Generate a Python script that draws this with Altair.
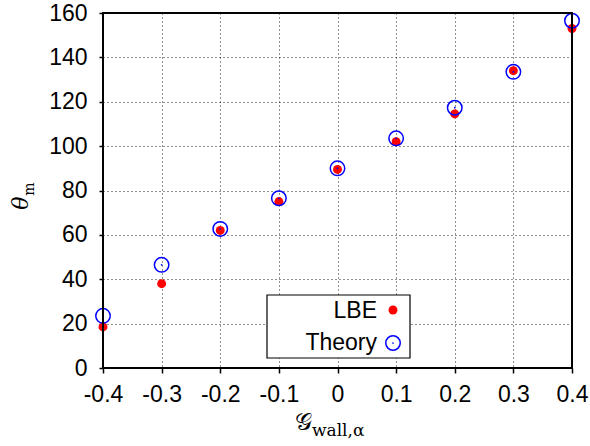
import altair as alt
import pandas as pd

# Wall wetting parameter and contact angles (degrees)
g_wall = [-0.4, -0.3, -0.2, -0.1, 0.0, 0.1, 0.2, 0.3, 0.4]
theta_lbe = [18.5, 38.0, 62.0, 75.0, 89.5, 102.0, 114.5, 134.0, 153.0]
theta_theory = [23.5, 46.5, 62.7, 76.5, 90.0, 103.5, 117.3, 133.5, 156.5]

x_ticks = [-0.4, -0.3, -0.2, -0.1, 0.0, 0.1, 0.2, 0.3, 0.4]
y_ticks = [0, 20, 40, 60, 80, 100, 120, 140, 160]

W, H = 469, 355
SANS = "Liberation Sans"
SERIF = "DejaVu Serif"

df = pd.DataFrame({"g": g_wall, "lbe": theta_lbe, "theory": theta_theory})

xs = alt.Scale(domain=[-0.4, 0.4], nice=False, zero=False)
ys = alt.Scale(domain=[0, 160], nice=False)

x_label_expr = ("datum.value == 0 ? '0' : (datum.value < 0 ? '-' + format(-datum.value, '.1f') "
                ": format(datum.value, '.1f'))")

x_axis = alt.Axis(values=x_ticks, labelExpr=x_label_expr,
                  title=None, labelFont=SANS, labelFontSize=23, labelColor="black",
                  labelFlush=False, labelOverlap=False, labelBound=False,
                  tickColor="black", tickSize=5, tickWidth=1.5, domain=False,
                  grid=True, gridColor="#222", gridDash=[1, 3], gridWidth=1, labelPadding=10)
y_axis = alt.Axis(values=y_ticks, title=None, labelFont=SANS, labelFontSize=23, labelColor="black",
                  labelFlush=False, labelOverlap=False, labelBound=False,
                  tickColor="black", tickSize=4, tickWidth=1.5, domain=False,
                  grid=True, gridColor="#222", gridDash=[1, 3], gridWidth=1, labelPadding=12)

base = alt.Chart(df)

lbe = base.mark_point(filled=True, color="#ff0000", size=80, opacity=1).encode(
    x=alt.X("g:Q", scale=xs, axis=x_axis),
    y=alt.Y("lbe:Q", scale=ys, axis=y_axis),
)
theory = base.mark_point(shape="circle", filled=False, color="#0000ff", size=210, strokeWidth=1.5, opacity=1).encode(
    x=alt.X("g:Q", scale=xs),
    y=alt.Y("theory:Q", scale=ys),
)
theory_dot = base.mark_point(shape="circle", filled=True, color="#0000ff", size=3, opacity=1).encode(
    x=alt.X("g:Q", scale=xs),
    y=alt.Y("theory:Q", scale=ys),
)

# Plot frame
one = pd.DataFrame({"a": [0]})
frame = alt.Chart(one).mark_rect(fill=None, stroke="black", strokeWidth=2).encode(
    x=alt.value(0), x2=alt.value(W), y=alt.value(0), y2=alt.value(H)
)

# Legend box with labels on the left of the symbols
leg_box = alt.Chart(one).mark_rect(fill="white", stroke="black", strokeWidth=1.2).encode(
    x=alt.value(164), x2=alt.value(307), y=alt.value(282), y2=alt.value(345)
)
leg_lbe_txt = alt.Chart(one).mark_text(text="LBE", font=SANS, fontSize=23, align="right", baseline="middle").encode(
    x=alt.value(274), y=alt.value(298)
)
leg_th_txt = alt.Chart(one).mark_text(text="Theory", font=SANS, fontSize=23, align="right", baseline="middle").encode(
    x=alt.value(274), y=alt.value(330)
)
leg_lbe_sym = alt.Chart(one).mark_point(filled=True, color="#ff0000", size=80, opacity=1).encode(
    x=alt.value(290), y=alt.value(297)
)
leg_th_sym = alt.Chart(one).mark_point(filled=False, color="#0000ff", size=210, strokeWidth=1.5, opacity=1).encode(
    x=alt.value(290), y=alt.value(330)
)
leg_th_dot = alt.Chart(one).mark_point(filled=True, color="#0000ff", size=3, opacity=1).encode(
    x=alt.value(290), y=alt.value(330)
)

# Axis titles: theta_m and G_{wall,alpha}
ytitle_main = alt.Chart(one).mark_text(text="θ", font=SERIF, fontStyle="italic", fontSize=22, angle=270,
                                       align="center", baseline="middle").encode(
    x=alt.value(-82), y=alt.value(190)
)
ytitle_sub = alt.Chart(one).mark_text(text="m", font=SERIF, fontSize=14, angle=270,
                                      align="center", baseline="middle").encode(
    x=alt.value(-73), y=alt.value(176)
)
xtitle_main = alt.Chart(one).mark_text(text="𝒢", font=SERIF, fontSize=24, align="right",
                                       baseline="alphabetic").encode(
    x=alt.value(209), y=alt.value(417)
)
xtitle_sub = alt.Chart(one).mark_text(text="wall,α", font=SERIF, fontSize=17, align="left",
                                      baseline="alphabetic").encode(
    x=alt.value(209), y=alt.value(423)
)

chart = alt.layer(
    lbe, theory, theory_dot, frame,
    leg_box, leg_lbe_txt, leg_th_txt, leg_lbe_sym, leg_th_sym, leg_th_dot,
    ytitle_main, ytitle_sub, xtitle_main, xtitle_sub,
).properties(
    width=W, height=H,
    autosize=alt.AutoSizeParams(type="none"),
    padding={"left": 103, "top": 13, "right": 18, "bottom": 78},
).configure_view(stroke=None).configure(background="white")

chart.save("out.html", embed_options={"renderer": "svg", "actions": False})
